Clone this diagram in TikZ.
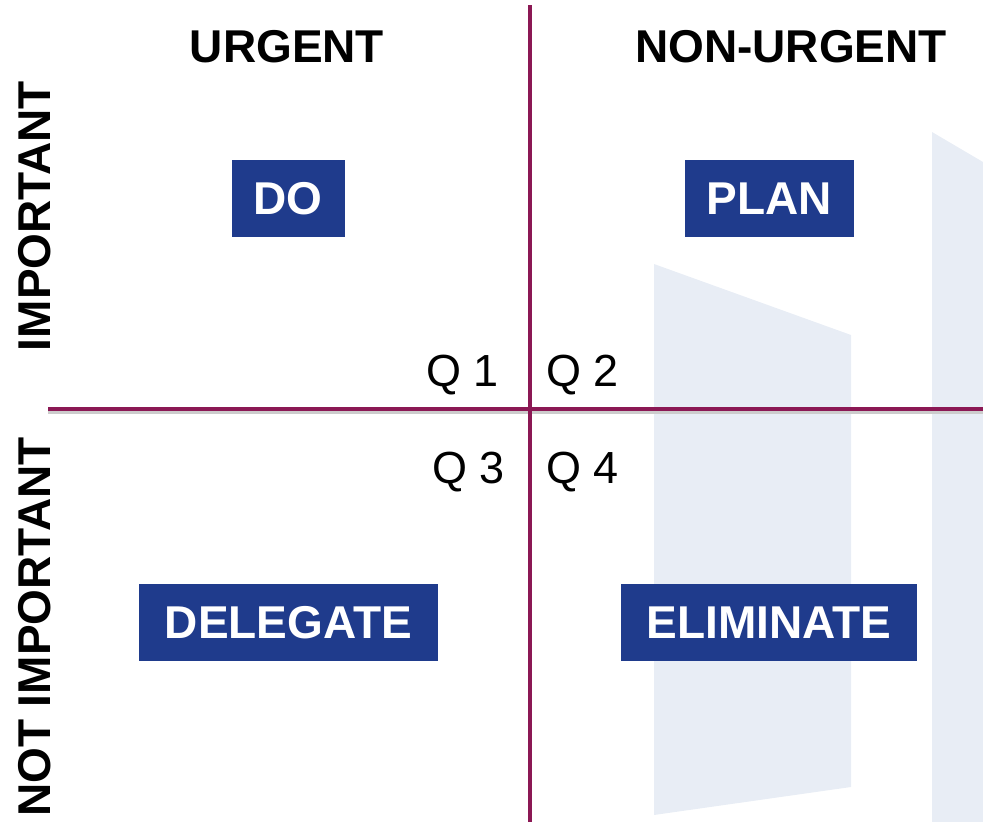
\documentclass[tikz,border=0pt]{standalone}
\usepackage{fontspec}
\setmainfont{Liberation Sans}
\usetikzlibrary{positioning}
\definecolor{axiscol}{RGB}{139,24,84}
\definecolor{boxcol}{RGB}{31,59,140}
\definecolor{shapecol}{RGB}{232,237,245}

\begin{document}
\begin{tikzpicture}[x=1pt,y=-1pt,
    header/.style={font=\fontsize{46}{46}\selectfont\bfseries,inner sep=0pt},
    action/.style={fill=boxcol,text=white,font=\fontsize{46}{46}\selectfont\bfseries,inner xsep=22pt,minimum height=77pt},
    quad/.style={font=\fontsize{45}{45}\selectfont,inner sep=0pt},
    axis/.style={draw=axiscol,line width=3.8pt}]
    \useasboundingbox (0,0) rectangle (983,822);

    %background
    \fill[shapecol] (654,264) -- (851,335) -- (851,787) -- (654,815) -- cycle;
    \fill[shapecol] (932,132) -- (983,162) -- (983,822) -- (932,822) -- cycle;

    %axes
    \coordinate (top) at (530,5);
    \coordinate (bottom) at (530,822);
    \coordinate (left) at (48,409);
    \coordinate (right) at (983,409);
    \draw[black!20,line width=3pt] ([yshift=-3pt]left) -- ([yshift=-3pt]right);
    \draw[axis] (top) -- (bottom);
    \draw[axis] (left) -- (right);

    %headers
    \node[header] (urgent) at (287,47) {URGENT};
    \node[header] (nonurgent) at (791,47) {NON-URGENT};
    \node[header,rotate=90] (important) at (35,216) {IMPORTANT};
    \node[header,rotate=90] (notimportant) at (35,627) {NOT IMPORTANT};

    %actions
    \node[action] (do) at (288,198.5) {DO};
    \node[action] (plan) at (769.5,198.5) {PLAN};
    \node[action,minimum width=299pt] (delegate) at (288.5,622.5) {DELEGATE};
    \node[action,minimum width=296pt] (eliminate) at (769,622.5) {ELIMINATE};

    %quadrants
    \node[quad,anchor=base east] (q1) at (499,386) {Q 1};
    \node[quad,anchor=base west] (q2) at (546,386) {Q 2};
    \node[quad,anchor=base east] (q3) at (505,483) {Q 3};
    \node[quad,anchor=base west] (q4) at (546,483) {Q 4};
\end{tikzpicture}
\end{document}
